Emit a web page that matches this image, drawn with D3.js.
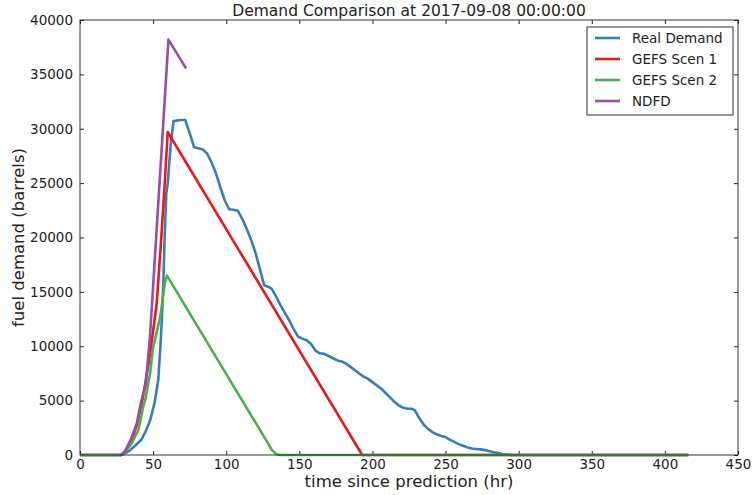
<!DOCTYPE html>
<html>
<head>
<meta charset="utf-8">
<script src="https://cdn.jsdelivr.net/npm/d3@7"></script>
<style>
  html, body { margin: 0; padding: 0; background: #fff; }
  svg { display: block; font-family: "DejaVu Sans", sans-serif; }
</style>
</head>
<body>
<div id="chart"></div>
<script>
// ---- Data ----
const title = "Demand Comparison at 2017-09-08 00:00:00";
const xLabel = "time since prediction (hr)";
const yLabel = "fuel demand (barrels)";
const xTicks = [0, 50, 100, 150, 200, 250, 300, 350, 400, 450];
const yTicks = [0, 5000, 10000, 15000, 20000, 25000, 30000, 35000, 40000];
const seriesNames = ["Real Demand", "GEFS Scen 1", "GEFS Scen 2", "NDFD"];
const seriesColors = ["#377eb8", "#e41a1c", "#4daf4a", "#984ea3"];

const realT = [0, 28, 30, 34, 38, 42, 45, 48, 51, 53.5, 55, 56, 57, 58, 59, 60, 62, 64, 66, 69, 72, 75, 78, 81, 84, 87, 90, 93, 96, 99, 102, 105, 108, 111, 114, 117, 120, 123, 126, 129, 131, 134, 137, 140, 143, 146, 149, 152, 155, 158, 161, 164, 167, 170, 173, 176, 179, 182, 185, 188, 191, 194, 197, 200, 203, 206, 209, 212, 215, 218, 221, 224, 227, 229, 232, 235, 238, 241, 244, 247, 250, 253, 256, 259, 262, 265, 268, 271, 274, 277, 280, 283, 286, 289, 292, 295, 416];
const realV = [0, 0, 100, 400, 900, 1400, 2200, 3200, 4800, 6900, 10000, 12500, 15800, 20500, 24000, 25000, 28500, 30700, 30750, 30800, 30800, 29600, 28300, 28200, 28100, 27700, 26900, 25900, 24600, 23400, 22600, 22550, 22450, 21700, 20800, 19800, 18600, 17100, 15600, 15450, 15300, 14600, 13800, 13100, 12400, 11600, 10900, 10700, 10550, 10200, 9600, 9350, 9300, 9100, 8900, 8700, 8600, 8400, 8100, 7800, 7500, 7200, 7000, 6700, 6400, 6100, 5700, 5300, 4900, 4550, 4350, 4250, 4250, 4100, 3400, 2800, 2400, 2100, 1900, 1750, 1650, 1400, 1200, 1000, 850, 700, 600, 550, 520, 450, 350, 250, 180, 100, 40, 0, 0];

const gefs1T = [0, 28, 31, 35, 39, 43, 47, 50, 52.5, 55, 57.5, 60, 193, 416];
const gefs1V = [0, 0, 300, 1200, 2800, 5300, 8500, 11400, 14000, 18800, 24000, 29700, 0, 0];

const gefs2T = [0, 28, 31, 35, 40, 43, 45, 48, 50, 53, 55, 58, 59.5, 128, 131, 134, 137, 416];
const gefs2V = [0, 0, 300, 1000, 2300, 4300, 5300, 7600, 9900, 11600, 12800, 15800, 16500, 1200, 500, 100, 0, 0];

const ndfdT = [27, 28, 31, 35, 39, 42, 45, 48, 60.5, 72.5];
const ndfdV = [0, 0, 400, 1500, 3000, 5000, 6500, 11200, 38200, 35550];

// ---- Layout ----
const W = 753, H = 495;
const m = { left: 80, right: 15, top: 20, bottom: 40 };
const iw = W - m.left - m.right, ih = H - m.top - m.bottom;

const svg = d3.select("#chart").append("svg").attr("width", W).attr("height", H);
const g = svg.append("g").attr("transform", `translate(${m.left},${m.top})`);

const x = d3.scaleLinear().domain([0, 450]).range([0, iw]);
const y = d3.scaleLinear().domain([0, 40000]).range([ih, 0]);

const tickColor = "#222";
const fontSize = 13.5;

// Axes
const xAxis = g.append("g").attr("transform", `translate(0,${ih})`)
  .call(d3.axisBottom(x).tickValues(xTicks).tickFormat(d3.format("d")).tickSizeInner(-4).tickSizeOuter(0).tickPadding(4));
const yAxis = g.append("g")
  .call(d3.axisLeft(y).tickValues(yTicks).tickFormat(d3.format("d")).tickSizeInner(-4).tickSizeOuter(0).tickPadding(7));
const xAxisTop = g.append("g")
  .call(d3.axisTop(x).tickValues(xTicks).tickFormat("").tickSizeInner(-4).tickSizeOuter(0));
const yAxisRight = g.append("g").attr("transform", `translate(${iw},0)`)
  .call(d3.axisRight(y).tickValues(yTicks).tickFormat("").tickSizeInner(-4).tickSizeOuter(0));

[xAxis, yAxis, xAxisTop, yAxisRight].forEach(a => {
  a.select(".domain").remove();
  a.selectAll("line").attr("stroke", tickColor);
  a.selectAll("text").attr("fill", tickColor).style("font-size", fontSize + "px").style("font-family", "DejaVu Sans");
});

// Lines
const datasets = [
  { t: realT, v: realV },
  { t: gefs1T, v: gefs1V },
  { t: gefs2T, v: gefs2V },
  { t: ndfdT, v: ndfdV }
];
const line = d3.line().x(d => x(d[0])).y(d => y(d[1]));
datasets.forEach((ds, i) => {
  const pts = ds.t.map((t, k) => [t, ds.v[k]]);
  g.append("path").datum(pts)
    .attr("fill", "none")
    .attr("stroke", seriesColors[i])
    .attr("stroke-width", 2.6)
    .attr("stroke-linejoin", "round")
    .attr("d", line);
});

// Frame
g.append("rect").attr("x", 0).attr("y", 0).attr("width", iw).attr("height", ih)
  .attr("fill", "none").attr("stroke", "#333").attr("stroke-width", 1);

// Title & labels
svg.append("text").attr("x", m.left + iw / 2).attr("y", 16)
  .attr("text-anchor", "middle").attr("fill", "#222")
  .style("font-size", "15.5px").text(title);
svg.append("text").attr("x", m.left + iw / 2).attr("y", 487)
  .attr("text-anchor", "middle").attr("fill", "#222")
  .style("font-size", "16.5px").text(xLabel);
svg.append("text").attr("transform", `translate(24,${m.top + ih / 2}) rotate(-90)`)
  .attr("text-anchor", "middle").attr("fill", "#222")
  .style("font-size", "16.5px").text(yLabel);

// Legend
const lg = svg.append("g").attr("transform", "translate(587,27)");
lg.append("rect").attr("width", 146).attr("height", 88)
  .attr("fill", "#fff").attr("stroke", "#333").attr("stroke-width", 1);
seriesNames.forEach((name, i) => {
  const yy = 11 + i * 21;
  lg.append("line").attr("x1", 8).attr("x2", 33).attr("y1", yy).attr("y2", yy)
    .attr("stroke", seriesColors[i]).attr("stroke-width", 2.6);
  lg.append("text").attr("x", 45).attr("y", yy + 5).attr("fill", "#222")
    .style("font-size", "13.5px").text(name);
});
</script>
</body>
</html>
